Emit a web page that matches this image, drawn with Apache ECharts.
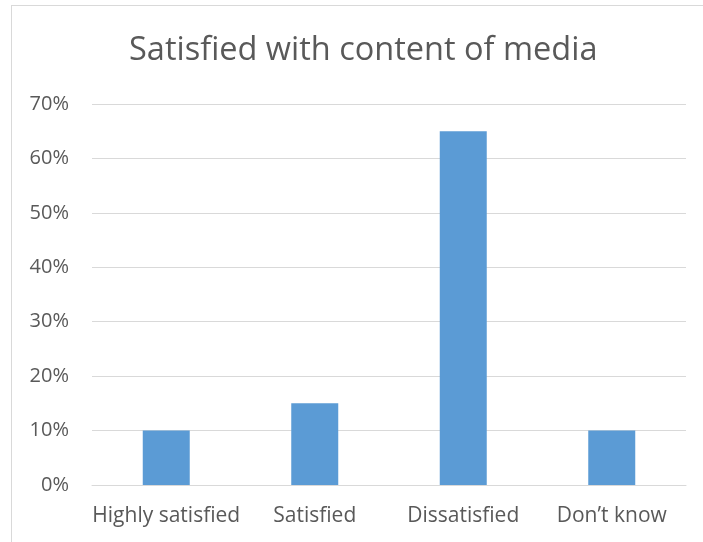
<!DOCTYPE html>
<html>
<head>
<meta charset="utf-8">
<script src="https://cdn.jsdelivr.net/npm/echarts@6/dist/echarts.min.js"></script>
<style>
html,body{margin:0;padding:0;background:#fff;}
#wrap{position:relative;width:703px;height:542px;overflow:hidden;}
#frame{position:absolute;left:11px;top:5px;width:800px;height:700px;border-left:1px solid #d9d9d9;border-top:1px solid #d9d9d9;}
#main{position:absolute;left:0;top:0;width:703px;height:542px;}
</style>
</head>
<body>
<div id="wrap"><div id="frame"></div><div id="main"></div></div>
<script>
const titleText = 'Satisfied with content of media';
const categories = ['Highly satisfied', 'Satisfied', 'Dissatisfied', 'Don\u2019t know'];
const values = [10, 15, 65, 10];
const yTicks = [0, 10, 20, 30, 40, 50, 60, 70];

const chart = echarts.init(document.getElementById('main'), null, {renderer: 'canvas'});
const font = '"Open Sans", "Noto Sans", sans-serif';
chart.setOption({
  animation: false,
  backgroundColor: 'transparent',
  title: {
    text: titleText,
    left: 124,
    top: 29,
    textStyle: {fontFamily: font, fontSize: 32.5, fontWeight: 'normal', color: '#595959'}
  },
  grid: {left: 92, right: 17, top: 104, bottom: 57, containLabel: false},
  xAxis: {
    type: 'category',
    data: categories,
    axisLine: {show: true, lineStyle: {color: '#d9d9d9', width: 1}},
    axisTick: {show: false},
    axisLabel: {fontFamily: font, fontSize: 21, color: '#595959', margin: 21, interval: 0}
  },
  yAxis: {
    type: 'value',
    min: yTicks[0],
    max: yTicks[yTicks.length - 1],
    interval: 10,
    axisLine: {show: false},
    axisTick: {show: false},
    splitLine: {lineStyle: {color: '#d9d9d9', width: 1}},
    axisLabel: {fontFamily: font, fontSize: 20, color: '#595959', margin: 23, formatter: '{value}%'}
  },
  series: [{
    type: 'bar',
    data: values,
    barWidth: 47,
    itemStyle: {color: '#5b9bd5'}
  }]
});
</script>
</body>
</html>
